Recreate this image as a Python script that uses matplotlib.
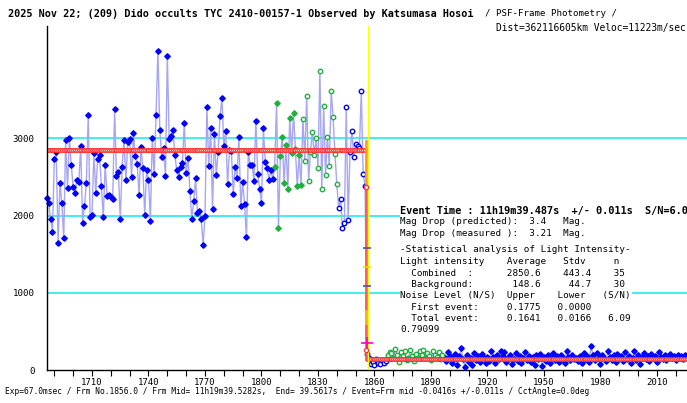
import matplotlib
matplotlib.use('Agg')
import matplotlib.pyplot as plt
import numpy as np
from matplotlib.ticker import MultipleLocator

# ---------------- data ----------------
first_frame = 1686
pre_values = [
    2231, 2167, 1951, 1792, 2731, 2822, 1650, 2425, 2158, 1706,
    2973, 2352, 2999, 2658, 2365, 2292, 2455, 2430, 2904, 1904,
    2124, 2425, 3305, 1977, 2003, 2805, 2292, 2727, 2779, 2378,
    1977, 2658, 2253, 2270, 2244, 2218, 3378, 2512, 2559, 1960,
    2628, 2977, 2464, 2947, 2986, 2499, 3076, 2766, 2662, 2266,
    2891, 2619, 2003, 2589, 2464, 1934, 3011, 2533, 3305, 4136,
    3111, 2757, 2878, 2512, 4063, 2990, 3033, 3111, 2779, 2589,
    2499, 2632, 2684, 3197, 2546, 2744, 2318, 1960, 2184, 2490,
    2037, 2059, 1951, 1619, 1990, 3412, 2645, 3132, 2085, 3063,
    2524, 2830, 3287, 3524, 2904, 3093, 2404, 2852, 2839, 2279,
    2632, 2490, 3016, 2119, 2430, 2149, 1718, 2818, 2654, 2658,
    2447, 3231, 2533, 2343, 2162, 3132, 2697, 2611, 2464, 2585,
    2477,
    # green filled
    2632, 3464, 1839, 2766, 3024, 2417, 2912, 2343, 3266, 2805,
    3330, 2861, 2382, 2779, 2399,
    # green hollow
    3253, 2710, 3550, 2451, 2826, 3089, 2783, 2999, 2615, 3878,
    2339, 3425, 2524, 3024, 2637, 3619, 3279, 2800, 2404,
    # blue hollow
    2098, 2210, 1843, 1904, 3408, 1947, 2818, 3098, 2757, 2930,
    2908, 2878, 3611, 2542, 2378,
]
post_values = [
    # blue hollow
    205, 150, 75, 110, 70, 140, 85, 80, 130, 90, 120,
    # green hollow (background)
    195, 235, 215, 160, 270, 200, 110, 230, 175, 245,
    130, 150, 255, 185, 115, 210, 160, 240, 190, 260,
    150, 220, 175, 130, 250, 200, 165, 235, 145, 190,
    # blue filled
    170, 120, 230, 185, 90, 150, 210, 60, 175, 290,
    140, 45, 195, 110, 160, 70, 225, 130, 180, 100,
    205, 150, 85, 170, 120, 240, 165, 95, 190, 140,
    250, 180, 235, 110, 160, 200, 75, 145, 215, 120,
    175, 90, 155, 230, 130, 185, 100, 165, 60, 200,
    145, 210, 50, 170, 120, 190, 85, 160, 225, 135,
    180, 110, 200, 150, 95, 240, 170, 125, 195, 140,
    160, 115, 185, 90, 215, 145, 175, 105, 310, 190,
    135, 225, 160, 80, 200, 150, 120, 245, 170, 130,
    190, 100, 210, 155, 175, 115, 235, 140, 185, 95,
    160, 245, 130, 200, 75, 170, 220, 145, 185, 120,
    205, 155, 180, 110, 230, 165, 140, 195, 125, 175,
    210, 150, 185, 130, 200, 160, 175, 140, 195, 165,
]

combined_avg = 2850.6
background_avg = 148.6
event_frame = 1856.0
partial_level = 2374
drop_marks_blue = [1580, 1088]
drop_marks_yellow = [1334]
drop_mark_magenta = 350
drop_mark_red = 258

green_filled_range = (1807, 1821)
green_hollow_pre_range = (1822, 1840)
blue_hollow_pre_range = (1841, 1855)
blue_hollow_post_range = (1856, 1866)
green_hollow_post_range = (1867, 1896)

y_grid = [1000, 2000, 3000]
x_major = 30
x_minor = 10

title_bold = "2025 Nov 22; (209) Dido occults TYC 2410-00157-1 Observed by Katsumasa Hosoi"
title_rest = "/ PSF-Frame Photometry /"
title_line2 = "Dist=362116605km Veloc=11223m/sec"
footer = ("Exp=67.0msec / Frm No.1856.0 / Frm Mid= 11h19m39.5282s,  End= 39.5617s / "
          "Event=Frm mid -0.0416s +/-0.011s / CctAngle=0.0deg")
event_line = "Event Time : 11h19m39.487s  +/- 0.011s  S/N=6.09"
info_lines = [
    "Mag Drop (predicted):  3.4   Mag.",
    "Mag Drop (measured ):  3.21  Mag.",
    "-Statistical analysis of Light Intensity-",
    "Light intensity    Average   Stdv     n",
    "  Combined  :      2850.6    443.4    35",
    "  Background:       148.6     44.7    30",
    "Noise Level (N/S)  Upper    Lower   (S/N)",
    "  First event:     0.1775   0.0000",
    "  Total event:     0.1641   0.0166   6.09",
    "0.79099",
]

# ---------------- figure ----------------
W, H = 687, 403
fig = plt.figure(figsize=(W / 100, H / 100), dpi=100)
ax_left, ax_right, ax_top, ax_bot = 47, 687, 26, 370
ax = fig.add_axes([ax_left / W, (H - ax_bot) / H, (ax_right - ax_left) / W, (ax_bot - ax_top) / H])
px_per_unit = 0.0772
ax.set_ylim(0, (ax_bot - ax_top) / px_per_unit)
px_per_frame = 1.8833
x0 = 1710 - (92 - ax_left) / px_per_frame
ax.set_xlim(x0, x0 + (ax_right - ax_left) / px_per_frame)

mono = 'DejaVu Sans Mono'

values = np.array(pre_values + post_values, dtype=float)
frames = np.arange(first_frame, first_frame + len(values))

for g in y_grid:
    ax.axhline(g, color='#33eeee', lw=1.3, zorder=1)

ax.plot(frames, values, color='#a6a6f4', lw=1.0, zorder=2)

blue = '#0000ff'
green = '#22b040'

def in_range(r):
    return (frames >= r[0]) & (frames <= r[1])

gf = in_range(green_filled_range)
gh = in_range(green_hollow_pre_range) | in_range(green_hollow_post_range)
bh = in_range(blue_hollow_pre_range) | in_range(blue_hollow_post_range)
bf = ~(gf | gh | bh)

ax.plot(frames[bf], values[bf], 'D', ms=2.8, color=blue, mec=blue, ls='none', zorder=3, clip_on=False)
ax.plot(frames[gf], values[gf], 'D', ms=2.8, color=green, mec=green, ls='none', zorder=3)
ax.plot(frames[gh], values[gh], 'o', ms=3.2, mfc='white', mec=green, mew=1.0, ls='none', zorder=3)
ax.plot(frames[bh], values[bh], 'o', ms=3.2, mfc='white', mec=blue, mew=1.0, ls='none', zorder=3)

# model line
pre_f = frames[frames < event_frame]
post_f = frames[frames >= event_frame]
ax.plot(list(pre_f), [combined_avg] * len(pre_f), color='#ff2020', lw=1.2, zorder=4)
ax.plot([event_frame] + list(post_f), [background_avg] * (len(post_f) + 1), color='#ff2020', lw=1.2, zorder=4)
ax.plot(pre_f, [combined_avg] * len(pre_f), 'o', ms=2.6, mfc='white', mec='#ff2020', mew=0.8, ls='none', zorder=5)
ax.plot(post_f, [background_avg] * len(post_f), 'o', ms=2.6, mfc='white', mec='#ff2020', mew=0.8, ls='none', zorder=5)

# drop
ax.plot([event_frame - 0.3] * 2, [partial_level, background_avg], color='#ff5a5a', lw=2.0, zorder=5)
ax.plot([event_frame - 0.3] * 2, [2960, partial_level], color='#ff9a20', lw=2.0, zorder=5)
ax.plot([event_frame - 0.3] * 2, [610, 760], color='#ffb020', lw=2.0, zorder=5)
ax.axvline(event_frame + 0.3, color='#ffff00', lw=1.0, zorder=6)
ax.plot([event_frame] * len(drop_marks_blue), drop_marks_blue, '_', ms=6, mew=1.2, color='#5050a0', zorder=7)
ax.plot([event_frame] * len(drop_marks_yellow), drop_marks_yellow, '_', ms=6, mew=1.2, color='#e0e000', zorder=7)
ax.plot([event_frame], [drop_mark_magenta], '+', ms=8, mew=1.2, color='#ff00cc', zorder=7)
ax.plot([event_frame - 0.3] * 2, [drop_mark_red, partial_level], 'o', ms=3, mfc='white', mec='#ff3030', mew=0.9, ls='none', zorder=8)

# axes styling
for s in ['top', 'right']:
    ax.spines[s].set_visible(False)
ax.spines['left'].set_color('black')
ax.spines['bottom'].set_color('black')
ax.spines['left'].set_linewidth(1.0)
ax.spines['bottom'].set_linewidth(1.0)
ax.spines['left'].set_zorder(9)
ax.xaxis.set_major_locator(MultipleLocator(x_major))
ax.xaxis.set_minor_locator(MultipleLocator(x_minor))
ax.tick_params(axis='x', which='both', direction='out', length=4, width=0.8, pad=2,
               labelsize=6.5, colors='black')
ax.tick_params(axis='y', length=0, pad=9, labelsize=6.6)
ax.set_yticks([0, 1000, 2000, 3000])
for lab in ax.get_xticklabels() + ax.get_yticklabels():
    lab.set_fontfamily(mono)

# texts
def fx(px):
    return px / W

def fy(py):
    return 1 - py / H

fig.text(fx(8), fy(14), title_bold, fontfamily=mono, fontweight='bold', fontsize=7.3, va='center', ha='left')
fig.text(fx(485), fy(14), title_rest, fontfamily=mono, fontsize=6.6, va='center', ha='left')
fig.text(fx(686), fy(28), title_line2, fontfamily=mono, fontsize=6.9, va='center', ha='right')
fig.text(fx(5), fy(392), footer, fontfamily=mono, fontsize=5.65, va='center', ha='left')

bb = dict(facecolor='white', edgecolor='none', pad=0.6)
fig.text(fx(400.5), fy(210.7), event_line, fontfamily=mono, fontweight='bold', fontsize=7.4,
         va='center', ha='left', bbox=bb, zorder=10)
line_y = [221.7, 233.3, 250, 261.7, 273.3, 284.3, 295.7, 307.3, 318.3, 330]
for t, yy in zip(info_lines, line_y):
    fig.text(fx(400.5), fy(yy), t, fontfamily=mono, fontsize=6.7, va='center', ha='left',
             bbox=bb, zorder=10)

fig.savefig('out.png', dpi=100)
